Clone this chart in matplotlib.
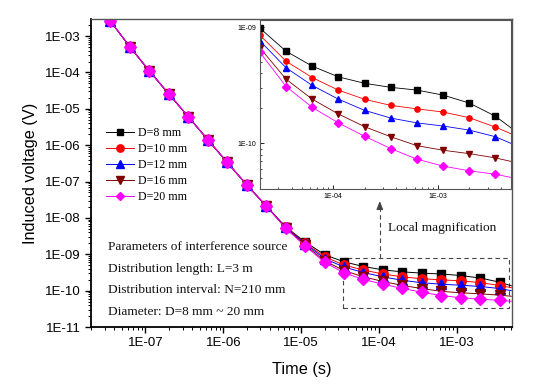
import matplotlib
matplotlib.use("Agg")
import matplotlib.pyplot as plt
from matplotlib.ticker import LogLocator, FuncFormatter, NullFormatter
from matplotlib.patches import Rectangle
import numpy as np

# ---- data ----
time_s = [3.55e-8, 6.3e-8, 1.12e-7, 2.0e-7, 3.55e-7, 6.3e-7, 1.12e-6, 2.0e-6,
          3.55e-6, 6.3e-6, 1.12e-5, 2.0e-5, 3.55e-5, 6.3e-5, 1.12e-4, 2.0e-4,
          3.55e-4, 6.3e-4, 1.12e-3, 2.0e-3, 3.55e-3, 5.0e-3]
early = [2.58e-3, 5.08e-4, 1.11e-4, 2.55e-5, 6.07e-6, 1.42e-6, 3.39e-7, 8.07e-8, 2.14e-8]
d8 = early + [5.7e-9, 2.2e-9, 9.75e-10, 6.19e-10, 4.61e-10, 3.73e-10, 3.28e-10,
              3.03e-10, 2.87e-10, 2.60e-10, 2.22e-10, 1.71e-10, 1.36e-10]
d10 = early + [5.6e-9, 2.05e-9, 8.49e-10, 5.08e-10, 3.68e-10, 2.87e-10, 2.39e-10,
               2.12e-10, 1.98e-10, 1.86e-10, 1.66e-10, 1.38e-10, 1.21e-10]
d12 = early + [5.5e-9, 1.95e-9, 7.59e-10, 4.46e-10, 3.15e-10, 2.40e-10, 1.92e-10,
               1.65e-10, 1.50e-10, 1.41e-10, 1.30e-10, 1.14e-10, 1.0e-10]
d16 = early + [5.35e-9, 1.8e-9, 6.61e-10, 3.56e-10, 2.40e-10, 1.79e-10, 1.39e-10,
               1.14e-10, 9.56e-11, 8.73e-11, 8.16e-11, 7.50e-11, 7.0e-11]
d20 = early + [5.2e-9, 1.7e-9, 6.04e-10, 3.08e-10, 2.04e-10, 1.50e-10, 1.15e-10,
               9.02e-11, 7.32e-11, 6.38e-11, 5.81e-11, 5.43e-11, 5.1e-11]
labels = ["D=8 mm", "D=10 mm", "D=12 mm", "D=16 mm", "D=20 mm"]
series = [d8, d10, d12, d16, d20]
colors = ["#000000", "#ff0000", "#0000ff", "#800000", "#ff00ff"]
markers = ["s", "o", "^", "v", "D"]
msizes = [6.3, 6.8, 6.8, 6.8, 5.8]
x_ticks = [1e-7, 1e-6, 1e-5, 1e-4, 1e-3]
y_ticks = [1e-3, 1e-4, 1e-5, 1e-6, 1e-7, 1e-8, 1e-9, 1e-10, 1e-11]
inset_x_ticks = [1e-4, 1e-3]
inset_y_ticks = [1e-9, 1e-10]

sans = "Liberation Sans"
serif = "Liberation Serif"

fig = plt.figure(figsize=(5.38, 3.86), dpi=100)
ax = fig.add_axes([91/538, 1-327/386, 421/538, 308/386])

n = len(time_s)
mk = slice(0, n-1)
handles = []
for ys, c, m, ms, lab in zip(series, colors, markers, msizes, labels):
    h, = ax.plot(time_s, ys, color=c, lw=0.7, marker=m, ms=ms, mfc=c, mec=c,
                 markevery=mk, label=lab)
    handles.append(h)

ax.set_xscale("log")
ax.set_yscale("log")
ax.set_xlim(2.0e-8, 5.1e-3)
ax.set_ylim(1e-11, 2.95e-3)

def efmt(v, pos=None):
    e = int(round(np.log10(v)))
    return "1E-%02d" % (-e)

ax.xaxis.set_major_locator(plt.FixedLocator(x_ticks))
ax.yaxis.set_major_locator(plt.FixedLocator(y_ticks))
ax.xaxis.set_major_formatter(FuncFormatter(efmt))
ax.yaxis.set_major_formatter(FuncFormatter(efmt))
ax.xaxis.set_minor_locator(LogLocator(base=10, subs=np.arange(2, 10), numticks=50))
ax.yaxis.set_minor_locator(LogLocator(base=10, subs=np.arange(2, 10), numticks=50))
ax.xaxis.set_minor_formatter(NullFormatter())
ax.yaxis.set_minor_formatter(NullFormatter())
ax.tick_params(which="major", direction="out", length=4, width=1.0, pad=3.5,
               labelsize=9.5)
ax.tick_params(which="minor", direction="out", length=2.2, width=0.7)
for lab in ax.get_xticklabels() + ax.get_yticklabels():
    lab.set_fontfamily(sans)
for s in ["left", "bottom"]:
    ax.spines[s].set_linewidth(1.3)
    ax.spines[s].set_color("black")
for s in ["top", "right"]:
    ax.spines[s].set_linewidth(1.0)
    ax.spines[s].set_color("#555555")

fig.text(302/538, (386-374.3)/386, "Time (s)", family=sans, fontsize=11.7,
         ha="center", va="baseline")
fig.text(31/538, (386-173)/386, "Induced voltage (V)", family=sans, fontsize=11.7,
         ha="center", va="center", rotation=90)

# legend
leg = ax.legend(handles=handles, loc="upper left", bbox_to_anchor=(0.036, 0.648),
                frameon=False, prop={"family": serif, "size": 8.6},
                handlelength=2.35, handletextpad=0.3, labelspacing=0.32,
                borderpad=0, borderaxespad=0, markerscale=0.78)

# parameter text
txt = ["Parameters of interference source", "Distribution length: L=3 m",
       "Distribution interval: N=210 mm", "Diameter: D=8 mm ~ 20 mm"]
ypos = [0.2588, 0.1873, 0.1201, 0.0497]
for t, yy in zip(txt, ypos):
    ax.text(0.0397, yy, t, transform=ax.transAxes, family=serif, fontsize=9.6,
            ha="left", va="center", color="#111111")
ax.text(0.705, 0.3205, "Local magnification", transform=ax.transAxes,
        family=serif, fontsize=9.6, ha="left", va="center", color="#111111")

# dashed box and arrow
ax.add_patch(Rectangle((0.599, 0.0607), 0.9929-0.599, 0.223-0.0607,
                       transform=ax.transAxes, fill=False, ls=(0, (4, 3)),
                       lw=0.8, ec="#444444"))
ax.plot([0.686, 0.686], [0.223, 0.40], transform=ax.transAxes, ls=(0, (4, 3)),
        lw=0.8, color="#444444")
ax.annotate("", xy=(0.686, 0.418), xytext=(0.686, 0.39), xycoords="axes fraction",
            arrowprops=dict(arrowstyle="-|>,head_length=0.5,head_width=0.2",
                            color="#444444", lw=0.8))

# inset
axi = fig.add_axes([260/538, 1-189.3/386, 251/538, (189.3-19.5)/386])
axi.set_facecolor("white")
for ys, c, m in zip(series, colors, markers):
    axi.plot(time_s, ys, color=c, lw=0.6, marker=m, ms=3.8, mfc=c, mec=c,
             markevery=mk)
axi.set_xscale("log")
axi.set_yscale("log")
axi.set_xlim(2.0e-5, 5.0e-3)
axi.set_ylim(4.03e-11, 1.16e-9)
axi.xaxis.set_major_locator(plt.FixedLocator(inset_x_ticks))
axi.yaxis.set_major_locator(plt.FixedLocator(inset_y_ticks))
axi.xaxis.set_major_formatter(FuncFormatter(efmt))
axi.yaxis.set_major_formatter(FuncFormatter(efmt))
axi.xaxis.set_minor_locator(LogLocator(base=10, subs=np.arange(2, 10), numticks=50))
axi.yaxis.set_minor_locator(LogLocator(base=10, subs=np.arange(2, 10), numticks=50))
axi.xaxis.set_minor_formatter(NullFormatter())
axi.yaxis.set_minor_formatter(NullFormatter())
axi.tick_params(which="major", direction="in", length=3, width=0.6, pad=2.5,
                labelsize=5)
axi.tick_params(which="minor", direction="in", length=1.6, width=0.5)
for lab in axi.get_xticklabels() + axi.get_yticklabels():
    lab.set_fontfamily(sans)
for s in axi.spines.values():
    s.set_linewidth(0.8)
    s.set_color("#555555")

fig.savefig("out.png", dpi=100)
